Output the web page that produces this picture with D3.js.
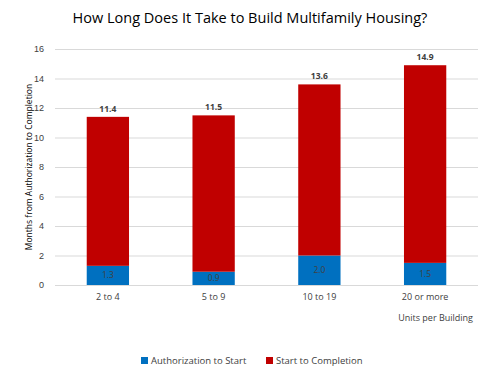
<!DOCTYPE html>
<html><head><meta charset="utf-8">
<script src="https://cdn.jsdelivr.net/npm/d3@7"></script>
<style>body{margin:0;background:#fff;}svg{display:block;font-family:"Open Sans","Noto Sans",sans-serif;}</style>
</head><body><svg id="c" width="500" height="375"></svg>
<script>
const categories = ["2 to 4", "5 to 9", "10 to 19", "20 or more"];
const authToStart = [1.3, 0.9, 2.0, 1.5];
const totals = [11.4, 11.5, 13.6, 14.9];
const startToCompletion = [10.1, 10.6, 11.6, 13.4];
const yTicks = [0, 2, 4, 6, 8, 10, 12, 14, 16];
const seriesNames = ["Authorization to Start", "Start to Completion"];
const colors = ["#0070C0", "#C00000"];

const svg = d3.select("#c");
const m = {l: 55, r: 22, t: 49, b: 90};
const W = 500, H = 375;
const x = d3.scaleBand().domain(categories).range([m.l, W - m.r]).paddingInner(0.6).paddingOuter(0.3);
const y = d3.scaleLinear().domain([0, 16]).range([H - m.b, m.t]);

svg.append("text").attr("x", 250).attr("y", 23).attr("text-anchor", "middle")
  .attr("font-size", 14.5).attr("fill", "#000").text("How Long Does It Take to Build Multifamily Housing?");

const yAxis = svg.append("g").attr("transform", `translate(${m.l},0)`)
  .call(d3.axisLeft(y).tickValues(yTicks).tickSize(-(W - m.l - m.r)).tickPadding(11));
yAxis.select(".domain").remove();
yAxis.selectAll(".tick line").attr("stroke", "#d9d9d9");
yAxis.selectAll(".tick text").attr("font-size", 9).attr("fill", "#404040");

const stackData = categories.map((c, i) => ({cat: c, a: authToStart[i], s: startToCompletion[i]}));
const stack = d3.stack().keys(["a", "s"])(stackData);
stack.forEach((layer, li) => {
  svg.append("g").selectAll("rect").data(layer).join("rect")
    .attr("x", d => x(d.data.cat)).attr("width", x.bandwidth())
    .attr("y", d => y(d[1])).attr("height", d => y(d[0]) - y(d[1]))
    .attr("fill", colors[li]);
});

svg.append("g").selectAll("text").data(categories).join("text")
  .attr("x", c => x(c) + x.bandwidth() / 2).attr("y", (c, i) => y(authToStart[i] / 2) + 3)
  .attr("text-anchor", "middle").attr("font-size", 8.5).attr("fill", "#404040")
  .text((c, i) => authToStart[i].toFixed(1));

svg.append("g").selectAll("text").data(categories).join("text")
  .attr("x", c => x(c) + x.bandwidth() / 2).attr("y", (c, i) => y(totals[i]) - 5)
  .attr("text-anchor", "middle").attr("font-size", 8.5).attr("font-weight", "bold").attr("fill", "#404040")
  .text((c, i) => totals[i].toFixed(1));

svg.append("g").selectAll("text").data(categories).join("text")
  .attr("x", c => x(c) + x.bandwidth() / 2).attr("y", y(0) + 15)
  .attr("text-anchor", "middle").attr("font-size", 9).attr("fill", "#404040").text(c => c);

svg.append("text").attr("x", 473).attr("y", 321).attr("text-anchor", "end")
  .attr("font-size", 9).attr("fill", "#404040").text("Units per Building");

svg.append("text").attr("transform", `translate(32,${(y(0) + y(16)) / 2}) rotate(-90)`)
  .attr("text-anchor", "middle").attr("font-size", 8.5).attr("fill", "#000")
  .text("Months from Authorization to Completion");

const legX = [141, 266];
seriesNames.forEach((n, i) => {
  svg.append("rect").attr("x", legX[i]).attr("y", 357).attr("width", 7).attr("height", 7).attr("fill", colors[i]);
  svg.append("text").attr("x", legX[i] + 10).attr("y", 364).attr("font-size", 9.5).attr("fill", "#404040").text(n);
});
</script></body></html>
